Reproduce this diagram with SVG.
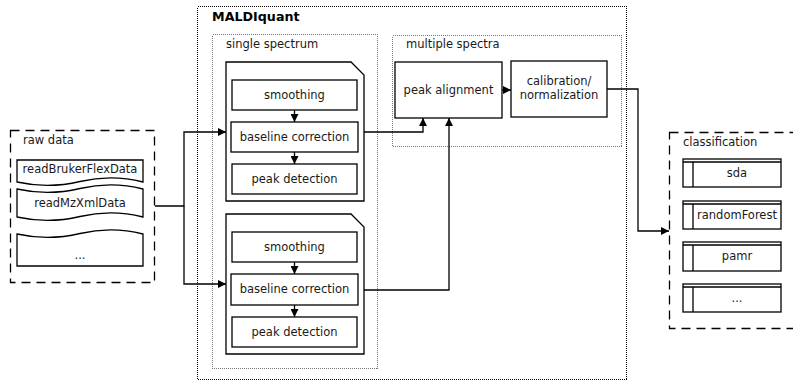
<svg xmlns="http://www.w3.org/2000/svg" width="793" height="381" viewBox="0 0 793 381">
<defs>
<marker id="ah" viewBox="0 0 10 10" refX="10" refY="5" markerWidth="8" markerHeight="8" markerUnits="userSpaceOnUse" orient="auto">
<path d="M0,0 L10,5 L0,10 Z" fill="#000"/>
</marker>
</defs>
<style>
text{font-family:"DejaVu Sans","Liberation Sans",sans-serif;font-size:11.5px;fill:#1a1a1a}
.c{text-anchor:middle}
.b{font-weight:bold;font-size:12.7px;fill:#000}
.box{fill:#fff;stroke:#000;stroke-width:1.3}
.dash{fill:none;stroke:#000;stroke-width:1.3;stroke-dasharray:9 6}
.dot{fill:none;stroke:#000;stroke-width:1;stroke-dasharray:1 1;shape-rendering:crispEdges}
.gdot{fill:none;stroke:#777;stroke-width:1;stroke-dasharray:1 1;shape-rendering:crispEdges}
.ln{fill:none;stroke:#000;stroke-width:1.3}
.arr{marker-end:url(#ah)}
</style>
<rect width="793" height="381" fill="#fff"/>

<g id="maldiquant">
<rect class="dot" x="197.5" y="6.5" width="429" height="373"/>
<text class="b" x="212" y="21">MALDIquant</text>
</g>

<g id="single-spectrum">
<rect class="gdot" x="212.5" y="34.5" width="165" height="334"/>
<text x="226" y="48">single spectrum</text>
</g>

<g id="multiple-spectra">
<rect class="gdot" x="392.5" y="35.5" width="229" height="111"/>
<text x="406" y="48">multiple spectra</text>
</g>

<g id="raw-data">
<rect class="dash" x="10.5" y="130.5" width="144" height="152"/>
<text x="23" y="144">raw data</text>
</g>

<g id="readBrukerFlexData">
<path class="box" d="M17,160 H143 V182 Q111.5,174 80,181.5 Q48.5,189 17,182 Z"/>
<text class="c" x="80" y="173">readBrukerFlexData</text>
</g>
<g id="readMzXmlData">
<path class="box" d="M17,189 Q48.5,196 80,188.5 Q111.5,181 143,189 V217 Q111.5,209 80,216.5 Q48.5,224 17,217 Z"/>
<text class="c" x="80" y="207">readMzXmlData</text>
</g>
<g id="raw-more">
<path class="box" d="M17,234 Q48.5,241 80,233.5 Q111.5,226 143,234 V266 H17 Z"/>
<text class="c" x="80" y="259">...</text>
</g>

<g id="spectrum-1">
<path class="box" d="M226,62 H351 L364,75 V201 H226 Z"/>
</g>
<g id="smoothing-1">
<rect class="box" x="232" y="80" width="125" height="30"/>
<text class="c" x="294.5" y="99">smoothing</text>
</g>
<g id="baseline-1">
<rect class="box" x="231" y="122" width="127" height="30"/>
<text class="c" x="294.5" y="141">baseline correction</text>
</g>
<g id="peak-detection-1">
<rect class="box" x="232" y="164" width="125" height="30"/>
<text class="c" x="294.5" y="183">peak detection</text>
</g>

<g id="spectrum-2">
<path class="box" d="M226,214 H351 L364,227 V354 H226 Z"/>
</g>
<g id="smoothing-2">
<rect class="box" x="232" y="232" width="125" height="30"/>
<text class="c" x="294.5" y="251">smoothing</text>
</g>
<g id="baseline-2">
<rect class="box" x="231" y="274" width="127" height="31"/>
<text class="c" x="294.5" y="293">baseline correction</text>
</g>
<g id="peak-detection-2">
<rect class="box" x="232" y="317" width="125" height="30"/>
<text class="c" x="294.5" y="336">peak detection</text>
</g>

<g id="peak-alignment">
<rect class="box" x="395" y="62" width="107" height="56"/>
<text class="c" x="448.5" y="94">peak alignment</text>
</g>
<g id="calibration">
<rect class="box" x="511" y="61" width="96" height="56"/>
<text class="c" x="559" y="85">calibration/</text>
<text class="c" x="559" y="99">normalization</text>
</g>

<g id="classification">
<rect class="dash" x="669.5" y="132.5" width="130" height="196"/>
<text x="683" y="146">classification</text>
</g>
<g id="sda">
<rect class="box" x="683" y="159" width="98" height="28"/>
<path class="ln" d="M683,162 H781 M693,162 V187"/>
<text class="c" x="737" y="177">sda</text>
</g>
<g id="randomForest">
<rect class="box" x="683" y="201" width="98" height="28"/>
<path class="ln" d="M683,204 H781 M693,204 V229"/>
<text class="c" x="737" y="219">randomForest</text>
</g>
<g id="pamr">
<rect class="box" x="683" y="242" width="98" height="29"/>
<path class="ln" d="M683,245 H781 M693,245 V271"/>
<text class="c" x="737" y="260">pamr</text>
</g>
<g id="class-more">
<rect class="box" x="683" y="284" width="98" height="28"/>
<path class="ln" d="M683,287 H781 M693,287 V312"/>
<text class="c" x="737" y="302">...</text>
</g>

<g id="connectors">
<path class="ln arr" d="M155,206 H184 V132 H226"/>
<path class="ln arr" d="M184,206 V284 H226"/>
<path class="ln arr" d="M294.5,110 V122"/>
<path class="ln arr" d="M294.5,152 V164"/>
<path class="ln arr" d="M294.5,262 V274"/>
<path class="ln arr" d="M294.5,305 V317"/>
<path class="ln arr" d="M364,132 H423 V118"/>
<path class="ln arr" d="M364,290 H449 V118"/>
<path class="ln arr" d="M502,90 H511"/>
<path class="ln arr" d="M607,89 H638 V231 H669"/>
</g>
</svg>
